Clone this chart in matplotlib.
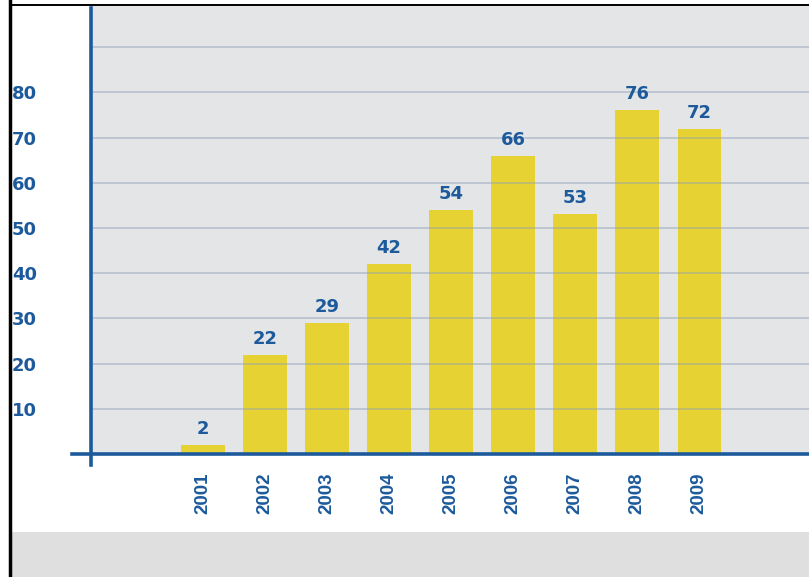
import matplotlib
matplotlib.use('Agg')
import matplotlib.pyplot as plt
from matplotlib.lines import Line2D
from matplotlib.patches import Rectangle

years = ['2001', '2002', '2003', '2004', '2005', '2006', '2007', '2008', '2009']
values = [2, 22, 29, 42, 54, 66, 53, 76, 72]
ytick_vals = [10, 20, 30, 40, 50, 60, 70, 80, 90]
ytick_labels = ['10', '20', '30', '40', '50', '60', '70', '80', '']

blue = '#1c5a9c'
yellow = '#e7d233'

fig = plt.figure(figsize=(8.09, 5.77), dpi=100)
fig.patch.set_facecolor('white')

# bottom grey band and black frame edges
fig.add_artist(Rectangle((0.014, 0), 0.986, 45 / 577, transform=fig.transFigure,
                         facecolor='#dfdfdf', edgecolor='none', zorder=0))
fig.add_artist(Line2D([0.0118, 0.0118], [0, 1], transform=fig.transFigure,
                      color='black', lw=2.5))
fig.add_artist(Line2D([0.0118, 1], [0.9915, 0.9915], transform=fig.transFigure,
                      color='black', lw=1.4))

ax = fig.add_axes([91 / 809, 123 / 577, 718 / 809, 448 / 577])
ax.set_facecolor('#e4e5e7')

x = list(range(len(years)))
bars = ax.bar(x, values, width=0.7, color=yellow, zorder=1)
ax.bar_label(bars, labels=[str(v) for v in values], padding=5,
             color=blue, fontsize=13, fontweight='bold', family='DejaVu Sans')

ax.set_xlim(-1.806, 9.77)
ax.set_ylim(0, 99.1)

ax.set_yticks(ytick_vals, ytick_labels)
ax.set_xticks(x, years, rotation=90)
ax.tick_params(axis='y', length=0, pad=57, labelsize=13, labelcolor=blue)
ax.tick_params(axis='x', length=0, pad=13, labelcolor=blue)
for lbl in ax.get_yticklabels():
    lbl.set_horizontalalignment('left')
    lbl.set_family('DejaVu Sans')
    lbl.set_fontweight('bold')
for lbl in ax.get_xticklabels():
    lbl.set_family('Liberation Sans')
    lbl.set_fontsize(13.5)
    lbl.set_fontweight('bold')

ax.set_axisbelow(False)
ax.grid(axis='y', color='#8ea0b6', alpha=0.45, lw=1.4)
ax.grid(axis='x', visible=False)

for s in ax.spines.values():
    s.set_visible(False)

# blue axis lines extending past the corner
ax.plot([0, 0], [-0.025, 0.9955], transform=ax.transAxes, color=blue,
        lw=2.6, clip_on=False, zorder=4)
ax.plot([-0.026, 1], [0, 0], transform=ax.transAxes, color=blue,
        lw=2.6, clip_on=False, zorder=4)

fig.savefig('out.png', dpi=100)
